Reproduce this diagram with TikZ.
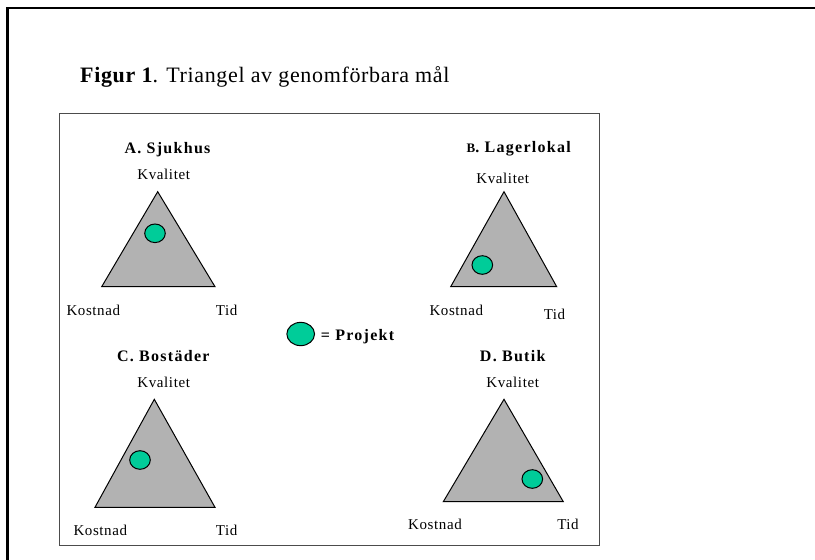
\documentclass[tikz,border=0pt]{standalone}
\usepackage{fontspec}
\setmainfont{Liberation Serif}
\newfontfamily\lblfont[LetterSpace=4]{Liberation Serif}
\newfontfamily\hdfont[LetterSpace=8]{Liberation Serif}
\newfontfamily\ttlfont[LetterSpace=3]{Liberation Serif}
\definecolor{projgreen}{RGB}{0,204,153}
\definecolor{trigray}{RGB}{178,178,178}
\tikzset{
  lbl/.style={inner sep=0pt, anchor=base, font=\lblfont\fontsize{15}{18}\selectfont},
  hd/.style={inner sep=0pt, anchor=base, font=\hdfont\bfseries\fontsize{16}{19}\selectfont},
  tri/.style={fill=trigray, draw=black, line width=1pt, line join=miter},
  proj/.style={ellipse, fill=projgreen, draw=black, line width=1pt, inner sep=0pt, minimum width=20.6pt, minimum height=18.6pt},
}
\usetikzlibrary{shapes.geometric}
\begin{document}
\begin{tikzpicture}[x=1pt,y=-1pt]
\useasboundingbox (0,0) rectangle (815,560);
% outer frame
\draw[line width=2.5pt] (7.5,560) -- (7.5,8) -- (815,8);
% title
\node[inner sep=0pt, anchor=base west, font=\ttlfont\fontsize{22}{26}\selectfont] (title) at (80,82.7) {\textbf{Figur 1}. Triangel av genomförbara mål};
% inner box
\draw[line width=1.1pt, draw=black!70] (59.3,113.6) rectangle (599.3,545.7);

% A
\coordinate (A1) at (157.7,191.7);
\coordinate (A2) at (101.7,286.7);
\coordinate (A3) at (215,286.7);
\draw[tri] (A1) -- (A2) -- (A3) -- cycle;
\node[proj] (pA) at (155,233.3) {};
\node[hd] (hA) at (167.5,153.3) {A. Sjukhus};
\node[lbl] (qA) at (163.7,179.3) {Kvalitet};
\node[lbl] (cA) at (93.3,315) {Kostnad};
\node[lbl] (dA) at (226.7,315) {Tid};

% B
\coordinate (B1) at (504,191.7);
\coordinate (B2) at (450.7,286.7);
\coordinate (B3) at (556.7,286.7);
\draw[tri] (B1) -- (B2) -- (B3) -- cycle;
\node[proj] (pB) at (482.3,265) {};
\node[hd] (hB) at (518.8,152.7) {{\fontsize{13}{15}\selectfont B}. Lagerlokal};
\node[lbl] (qB) at (502.7,183.3) {Kvalitet};
\node[lbl] (cB) at (456.3,315) {Kostnad};
\node[lbl] (dB) at (554.5,319.3) {Tid};

% C
\coordinate (C1) at (154.3,399.3);
\coordinate (C2) at (95,507.3);
\coordinate (C3) at (215,507.3);
\draw[tri] (C1) -- (C2) -- (C3) -- cycle;
\node[proj] (pC) at (140,460) {};
\node[hd] (hC) at (163.3,361) {C. Bostäder};
\node[lbl] (qC) at (163.7,387.3) {Kvalitet};
\node[lbl] (cC) at (100.3,535) {Kostnad};
\node[lbl] (dC) at (226.7,535) {Tid};

% D
\coordinate (D1) at (504,399.3);
\coordinate (D2) at (443.3,501.7);
\coordinate (D3) at (563.3,501.7);
\draw[tri] (D1) -- (D2) -- (D3) -- cycle;
\node[proj] (pD) at (532.3,479) {};
\node[hd] (hD) at (512.7,361) {D. Butik};
\node[lbl] (qD) at (512.7,387.3) {Kvalitet};
\node[lbl] (cD) at (435,529) {Kostnad};
\node[lbl] (dD) at (568,529) {Tid};

% legend
\node[proj, minimum width=27.7pt, minimum height=23.3pt] (leg) at (300.7,334) {};
\node[hd, anchor=base west] (legtext) at (320.7,340) {= Projekt};
\end{tikzpicture}
\end{document}
